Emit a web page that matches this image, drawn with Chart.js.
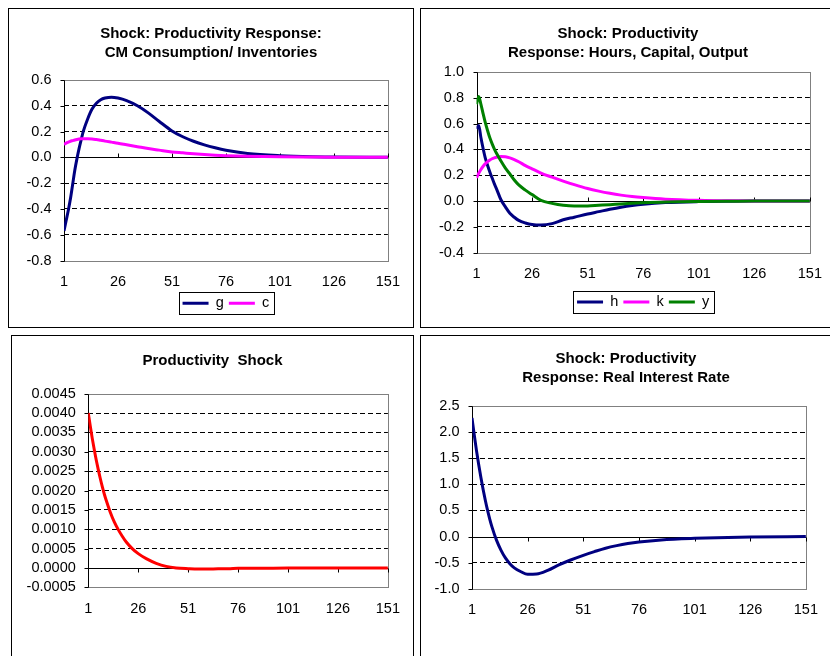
<!DOCTYPE html>
<html>
<head>
<meta charset="utf-8">
<script src="https://cdn.jsdelivr.net/npm/chart.js@4.4.1/dist/chart.umd.min.js"></script>
<style>
  body { margin: 0; background: #fff; width: 830px; height: 656px; overflow: hidden; position: relative; }
  .panel { position: absolute; border: 1px solid #000; box-sizing: border-box; background: #fff; }
  .panel canvas { position: absolute; left: 0; top: 0; }
</style>
</head>
<body>
<div class="panel" style="left:8px;top:8px;width:406px;height:320px"><canvas id="inventoryChart" width="404" height="318"></canvas></div>
<div class="panel" style="left:420px;top:8px;width:416px;height:320px"><canvas id="hoursChart" width="414" height="318"></canvas></div>
<div class="panel" style="left:11px;top:335px;width:403px;height:330px"><canvas id="shockChart" width="401" height="328"></canvas></div>
<div class="panel" style="left:420px;top:335px;width:412px;height:330px"><canvas id="rateChart" width="410" height="328"></canvas></div>
<script>
const periods = [1, 2, 3, 4, 5, 6, 7, 8, 9, 10, 12, 14, 16, 18, 20, 23, 26, 30, 35, 40, 45, 51, 56, 61, 66, 71, 76, 86, 101, 116, 126, 151];
const xTickLabels = [1, 26, 51, 76, 101, 126, 151];

// top left: CM consumption / inventories
const gValues = [-0.57, -0.49, -0.41, -0.32, -0.21, -0.10, -0.01, 0.07, 0.14, 0.205, 0.30, 0.375, 0.42, 0.447, 0.46, 0.467, 0.46, 0.44, 0.40, 0.345, 0.28, 0.205, 0.16, 0.125, 0.097, 0.074, 0.055, 0.03, 0.013, 0.005, 0.003, 0.001];
const cValues = [0.10, 0.11, 0.118, 0.125, 0.13, 0.135, 0.139, 0.142, 0.144, 0.145, 0.145, 0.143, 0.138, 0.132, 0.126, 0.118, 0.11, 0.098, 0.083, 0.068, 0.056, 0.042, 0.035, 0.028, 0.022, 0.017, 0.013, 0.008, 0.004, 0.002, 0.001, 0.0];
const inventoryTicks = [-0.8, -0.6, -0.4, -0.2, 0, 0.2, 0.4, 0.6];

// top right: hours, capital, output
const hValues = [0.56, 0.585, 0.49, 0.405, 0.33, 0.275, 0.225, 0.18, 0.135, 0.095, 0.01, -0.045, -0.095, -0.125, -0.15, -0.17, -0.182, -0.186, -0.175, -0.145, -0.125, -0.10, -0.082, -0.064, -0.048, -0.035, -0.025, -0.012, -0.004, -0.001, 0.0, 0.0];
const kValues = [0.18, 0.215, 0.245, 0.27, 0.29, 0.305, 0.318, 0.328, 0.335, 0.34, 0.345, 0.343, 0.335, 0.322, 0.305, 0.275, 0.25, 0.217, 0.185, 0.155, 0.127, 0.097, 0.077, 0.06, 0.046, 0.035, 0.027, 0.015, 0.006, 0.002, 0.001, 0.0];
const yValues = [0.75, 0.81, 0.75, 0.675, 0.605, 0.545, 0.49, 0.445, 0.405, 0.37, 0.31, 0.255, 0.21, 0.163, 0.125, 0.085, 0.05, 0.005, -0.018, -0.033, -0.039, -0.038, -0.033, -0.028, -0.022, -0.017, -0.013, -0.007, -0.003, -0.001, 0.0, 0.0];
const hoursTicks = [-0.4, -0.2, 0, 0.2, 0.4, 0.6, 0.8, 1.0];

// bottom left: productivity shock
const shockValues = [0.0040, 0.00366, 0.00334, 0.00305, 0.00278, 0.00254, 0.00231, 0.0021, 0.00191, 0.00174, 0.00144, 0.00119, 0.00099, 0.00082, 0.00067, 0.0005, 0.00037, 0.00024, 0.00012, 0.00004, 0.0, -0.00002, -0.00003, -0.00003, -0.00002, -0.00002, -0.00001, -0.00001, 0.0, 0.0, 0.0, 0.0];
const shockTicks = [-0.0005, 0, 0.0005, 0.001, 0.0015, 0.002, 0.0025, 0.003, 0.0035, 0.004, 0.0045];

// bottom right: real interest rate
const rateValues = [2.27, 1.95, 1.65, 1.38, 1.13, 0.9, 0.69, 0.5, 0.33, 0.18, -0.07, -0.26, -0.41, -0.52, -0.6, -0.675, -0.725, -0.72, -0.65, -0.545, -0.455, -0.36, -0.29, -0.225, -0.175, -0.135, -0.105, -0.065, -0.035, -0.017, -0.01, -0.002];
const rateTicks = [-1, -0.5, 0, 0.5, 1, 1.5, 2, 2.5];

Chart.defaults.font.family = "'Liberation Sans', Arial, sans-serif";
Chart.defaults.color = "#000";

// plot frame, zero axis and tick marks the way the spreadsheet draws them
const excelFrame = {
  id: "excelFrame",
  beforeDatasetsDraw(chart, args, opts) {
    const { ctx, chartArea: a, scales: { x, y } } = chart;
    const px = (v) => Math.round(v) + 0.5;
    ctx.save();
    ctx.lineWidth = 1;
    ctx.strokeStyle = "#808080";
    ctx.strokeRect(px(a.left), px(a.top), Math.round(a.right) - Math.round(a.left), Math.round(a.bottom) - Math.round(a.top));
    ctx.strokeStyle = "#000";
    ctx.beginPath();
    const lx = px(a.left);
    ctx.moveTo(lx, px(a.top));
    ctx.lineTo(lx, px(a.bottom));
    y.ticks.forEach((t) => {
      const ty = px(y.getPixelForValue(t.value));
      ctx.moveTo(lx - 4, ty);
      ctx.lineTo(lx, ty);
    });
    const y0 = px(y.getPixelForValue(0));
    ctx.moveTo(a.left, y0);
    ctx.lineTo(a.right, y0);
    x.ticks.forEach((t) => {
      const tx = px(x.getPixelForValue(t.value));
      ctx.moveTo(tx, y0);
      ctx.lineTo(tx, y0 + opts.tickDir * 4);
    });
    ctx.stroke();
    ctx.restore();
  },
  afterDraw(chart) {
    const legend = chart.legend;
    if (!legend || !legend.options.display || !legend.legendHitBoxes.length) return;
    const boxes = legend.legendHitBoxes;
    const first = boxes[0];
    const last = boxes[boxes.length - 1];
    const cy = first.top + first.height / 2;
    const ctx = chart.ctx;
    ctx.save();
    ctx.lineWidth = 1;
    ctx.strokeStyle = "#000";
    const left = Math.round(first.left - 4) + 0.5;
    const right = Math.round(last.left + last.width + 5) + 0.5;
    const top = Math.round(cy - 11) + 0.5;
    ctx.strokeRect(left, top, right - left, 22);
    ctx.restore();
  },
};

function buildChart(canvasId, setup) {
  const ctx = document.getElementById(canvasId).getContext("2d");
  const yTicks = setup.ticks;
  return new Chart(ctx, {
    type: "line",
    data: {
      datasets: setup.series.map((s) => ({
        label: s.label,
        data: periods.map((p, i) => ({ x: p, y: s.values[i] })),
        borderColor: s.color,
        backgroundColor: s.color,
        borderWidth: 3,
        pointRadius: 0,
        cubicInterpolationMode: "monotone",
        order: s.order,
      })),
    },
    options: {
      responsive: false,
      animation: false,
      events: [],
      layout: { padding: { left: 0, right: 0, top: 0, bottom: setup.bottom } },
      plugins: {
        title: {
          display: true,
          text: setup.title,
          color: "#000",
          font: { size: 15, weight: "bold", lineHeight: "19px" },
          padding: { top: setup.titleTop, bottom: setup.titleBottom },
        },
        legend: {
          display: setup.legend,
          position: "bottom",
          fullSize: false,
          labels: {
            color: "#000",
            font: { size: 14.5 },
            usePointStyle: true,
            pointStyle: "line",
            pointStyleWidth: 26,
            padding: 5,
            sort: (a, b) => a.datasetIndex - b.datasetIndex,
          },
        },
        tooltip: { enabled: false },
        excelFrame: { tickDir: setup.tickDir },
      },
      scales: {
        x: {
          type: "linear",
          min: 1,
          max: 151,
          afterBuildTicks: (s) => {
            s.ticks = xTickLabels.map((v) => ({ value: v }));
          },
          afterFit: (s) => {
            s.height = setup.xHeight;
          },
          grid: { display: false, drawTicks: false },
          border: { display: false },
          ticks: { color: "#000", font: { size: 14.5 }, padding: 13, maxRotation: 0, autoSkip: false, callback: (v) => String(v) },
        },
        y: {
          min: yTicks[0],
          max: yTicks[yTicks.length - 1],
          afterBuildTicks: (s) => {
            s.ticks = yTicks.map((v) => ({ value: v }));
          },
          afterFit: (s) => {
            s.width = setup.yWidth;
          },
          grid: {
            drawTicks: false,
            lineWidth: 1,
            color: (c) => {
              if (!c.tick) return "#000";
              const edge = c.index === 0 || c.index === yTicks.length - 1;
              return edge || Math.abs(c.tick.value) < 1e-12 ? "rgba(0,0,0,0)" : "#000";
            },
          },
          border: { display: false, dash: [5, 3] },
          ticks: {
            color: "#000",
            font: { size: 14.5 },
            padding: 12.5,
            autoSkip: false,
            callback: (v) => (Math.abs(v) < 1e-12 ? 0 : v).toFixed(setup.decimals),
          },
        },
        // empty right-hand box that keeps the plot clear of the panel edge
        spacer: {
          type: "linear",
          position: "right",
          min: 0,
          max: 1,
          afterFit: (s) => {
            s.width = setup.rightWidth;
          },
          grid: { display: false, drawTicks: false },
          border: { display: false },
          ticks: { display: false },
        },
      },
    },
    plugins: [excelFrame],
  });
}

buildChart("inventoryChart", {
  title: ["Shock: Productivity Response:", "CM Consumption/ Inventories"],
  series: [
    { label: "g", values: gValues, color: "#000080", order: 1 },
    { label: "c", values: cValues, color: "#FF00FF", order: 0 },
  ],
  ticks: inventoryTicks,
  decimals: 1,
  legend: true,
  yWidth: 55,
  rightWidth: 16.5,
  titleTop: 15,
  titleBottom: 18,
  xHeight: 30.5,
  bottom: 6.5,
  tickDir: -1,
});

buildChart("hoursChart", {
  title: ["Shock: Productivity", "Response: Hours, Capital, Output"],
  series: [
    { label: "h", values: hValues, color: "#000080", order: 2 },
    { label: "k", values: kValues, color: "#FF00FF", order: 1 },
    { label: "y", values: yValues, color: "#008000", order: 0 },
  ],
  ticks: hoursTicks,
  decimals: 1,
  legend: true,
  yWidth: 55.5,
  rightWidth: 17.3,
  titleTop: 15,
  titleBottom: 10,
  xHeight: 37,
  bottom: 7.8,
  tickDir: -1,
});

buildChart("shockChart", {
  title: "Productivity  Shock",
  series: [{ label: "shock", values: shockValues, color: "#FF0000", order: 0 }],
  ticks: shockTicks,
  decimals: 4,
  legend: false,
  yWidth: 76.3,
  rightWidth: 21.3,
  titleTop: 15,
  titleBottom: 23.7,
  xHeight: 30,
  bottom: 46.7,
  tickDir: 1,
});

buildChart("rateChart", {
  title: ["Shock: Productivity", "Response: Real Interest Rate"],
  series: [{ label: "r", values: rateValues, color: "#000080", order: 0 }],
  ticks: rateTicks,
  decimals: 1,
  legend: false,
  yWidth: 51,
  rightWidth: 21,
  titleTop: 13.8,
  titleBottom: 18.2,
  xHeight: 30,
  bottom: 45.3,
  tickDir: 1,
});
</script>
</body>
</html>
